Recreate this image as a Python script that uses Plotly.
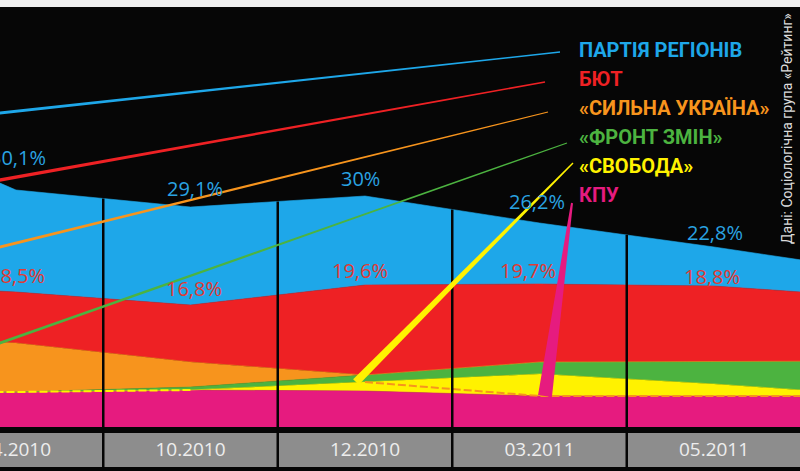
import numpy as np
import plotly.graph_objects as go

# ---------------- data (band heights as drawn, arbitrary units; index -1 and 5 lie just off-canvas) ----
x_idx = [-1, 0, 1, 2, 3, 4, 5]
tick_idx = [0, 1, 2, 3, 4]
dates = ["04.2010", "10.2010", "12.2010", "03.2011", "05.2011"]

kpu     = [8.75, 8.75, 9.25, 9.0, 7.75, 7.75, 7.75]
svoboda = [0.0, 0.0, 0.0, 2.25, 5.5, 3.0, 0.0]
front   = [0.0, 0.0, 0.75, 1.75, 3.0, 5.75, 8.75]
silna   = [14.5, 12.25, 6.25, 0.0, 0.0, 0.0, 0.0]
byut    = [12.75, 12.75, 14.25, 22.5, 19.5, 18.75, 15.75]
pr      = [42.0, 25.5, 24.5, 22.25, 15.25, 9.75, 6.25]

pr_labels = ["30,1%", "29,1%", "30%", "26,2%", "22,8%"]
byut_labels = ["18,5%", "16,8%", "19,6%", "19,7%", "18,8%"]

parties = ["ПАРТІЯ РЕГІОНІВ", "БЮТ", "«СИЛЬНА УКРАЇНА»", "«ФРОНТ ЗМІН»", "«СВОБОДА»", "КПУ"]
source = "Дані: Соціологічна група «Рейтинг»"

# ---------------- styling ----------------
C_PR, C_BYUT, C_SILNA = "#1ea7e9", "#ee2124", "#f7941d"
C_FRONT, C_SVOB, C_KPU = "#4cb340", "#fff200", "#e61b7f"
BG = "#060606"
W, H = 800, 471
PLOT_BOTTOM = 428
X0_PX, DX_PX = 16.0, 174.5
Y0_PX, PXU = 427.0, 4.0
LABEL_FONT = "Open Sans, DejaVu Sans, sans-serif"
NARROW = "Liberation Sans Narrow, Roboto, sans-serif"


def to_data(px, py):
    return (px - X0_PX) / DX_PX, (Y0_PX - py) / PXU


def ppx(px):
    return px / W


def ppy(py):
    return (PLOT_BOTTOM - py) / PLOT_BOTTOM


fig = go.Figure()

series = [("КПУ", kpu, C_KPU), ("Свобода", svoboda, C_SVOB), ("Фронт змін", front, C_FRONT),
          ("Сильна Україна", silna, C_SILNA), ("БЮТ", byut, C_BYUT), ("Партія регіонів", pr, C_PR)]
for name, vals, col in series:
    fig.add_trace(go.Scatter(x=x_idx, y=vals, name=name, stackgroup="one", mode="lines",
                             line=dict(width=0.6, color=col), fillcolor=col,
                             hoverinfo="skip", showlegend=False))

cum = np.cumsum(np.array([kpu, svoboda, front, silna, byut, pr]), axis=0)
xi = np.array(x_idx)

# zero-value parties drawn as dashed lines
fig.add_trace(go.Scatter(x=xi[:3], y=cum[0][:3], mode="lines", showlegend=False, hoverinfo="skip",
                         line=dict(color=C_SVOB, width=2, dash="8px,3px")))
oy = [cum[1][3]] + list(cum[0][4:])
fig.add_trace(go.Scatter(x=xi[3:], y=oy, mode="lines", showlegend=False, hoverinfo="skip",
                         line=dict(color=C_SILNA, width=2, dash="8px,3px")))

shapes = []
# top scan strip
shapes.append(dict(type="rect", xref="paper", yref="paper", x0=0, x1=1, y0=ppy(0), y1=ppy(7),
                   fillcolor="#f0f0f0", line=dict(width=0), layer="above"))
# grey date band (below the axis tick labels)
shapes.append(dict(type="rect", xref="paper", yref="paper", x0=0, x1=1, y0=ppy(433), y1=ppy(467),
                   fillcolor="#8d8d8d", line=dict(width=0), layer="below"))
# column separators
total = cum[-1]
for b in [0.5, 1.5, 2.5, 3.5]:
    i0 = int(np.floor(b)) + 1
    top = (total[i0] + total[i0 + 1]) / 2
    pxb = X0_PX + DX_PX * b
    top_py = Y0_PX - PXU * top
    shapes.append(dict(type="line", xref="paper", yref="paper", x0=ppx(pxb), x1=ppx(pxb),
                       y0=ppy(PLOT_BOTTOM), y1=ppy(top_py), line=dict(color="#050505", width=2.5),
                       layer="above"))
    shapes.append(dict(type="line", xref="paper", yref="paper", x0=ppx(pxb), x1=ppx(pxb),
                       y0=ppy(468), y1=ppy(PLOT_BOTTOM), line=dict(color="#050505", width=2.5),
                       layer="below"))


def wedge(a, wa, b, wb):
    ax, ay = a
    bx, by = b
    dx, dy = bx - ax, by - ay
    L = (dx * dx + dy * dy) ** 0.5
    nx, ny = -dy / L, dx / L
    pts = [(ax + nx * wa / 2, ay + ny * wa / 2), (bx + nx * wb / 2, by + ny * wb / 2),
           (bx - nx * wb / 2, by - ny * wb / 2), (ax - nx * wa / 2, ay - ny * wa / 2)]
    d = [to_data(px, py) for px, py in pts]
    return "M " + " L ".join(f"{x:.4f},{y:.4f}" for x, y in d) + " Z"


leaders = [
    (C_PR, (-20, 115.2), 3.2, (560, 52), 1.4),
    (C_BYUT, (-20, 183.6), 3.6, (545, 82), 1.4),
    (C_SILNA, (-20, 251.9), 3.0, (548, 112), 1.2),
    (C_FRONT, (-20, 350.0), 3.0, (567, 143), 1.2),
    (C_SVOB, (356, 382), 8.0, (573, 163), 1.4),
    (C_KPU, (545, 396), 14.0, (572, 203), 2.0),
]
for col, a, wa, b, wb in leaders:
    shapes.append(dict(type="path", xref="x", yref="y", path=wedge(a, wa, b, wb),
                       fillcolor=col, line=dict(width=0)))

annotations = []
leg_cols = [C_PR, C_BYUT, C_SILNA, C_FRONT, C_SVOB, C_KPU]
for k, (txt, col) in enumerate(zip(parties, leg_cols)):
    annotations.append(dict(text=f"<b>{txt}</b>", xref="paper", yref="paper", x=ppx(577),
                            y=ppy(50 + 29 * k), xanchor="left", yanchor="middle", showarrow=False,
                            font=dict(family=NARROW, size=20, color=col)))

annotations.append(dict(text=source, xref="paper", yref="paper", x=ppx(787), y=ppy(129),
                        textangle=-90, showarrow=False, xanchor="center", yanchor="middle",
                        font=dict(family=NARROW, size=14, color="#dcdcdc")))

pr_dy = [33, 19, 18, 22, 15]
pr_dx = [2, 4, -5, -3, 1]
by_dy = [17, 17, 15, 14, 10]
by_dx = [1, 3, -5, -12, -2]
for j, i in enumerate(tick_idx):
    k = x_idx.index(i)
    annotations.append(dict(text=pr_labels[j], x=i, y=total[k], xref="x", yref="y",
                            xshift=pr_dx[j], yshift=pr_dy[j], showarrow=False,
                            yanchor="middle", xanchor="center",
                            font=dict(family=LABEL_FONT, size=20, color="#2aa3e2")))
    annotations.append(dict(text=byut_labels[j], x=i, y=cum[4][k], xref="x", yref="y",
                            xshift=by_dx[j], yshift=by_dy[j], showarrow=False,
                            yanchor="middle", xanchor="center",
                            font=dict(family=LABEL_FONT, size=20, color="#e23a34")))

fig.update_layout(
    width=W, height=H,
    margin=dict(l=0, r=0, t=0, b=H - PLOT_BOTTOM, autoexpand=False),
    paper_bgcolor=BG, plot_bgcolor=BG,
    showlegend=False,
    shapes=shapes, annotations=annotations,
    xaxis=dict(range=[(0 - X0_PX) / DX_PX, (W - X0_PX) / DX_PX], tickvals=tick_idx, ticktext=dates,
               showgrid=False, zeroline=False, showline=False, ticks="",
               ticklabeloverflow="allow", automargin=False,
               tickfont=dict(family=LABEL_FONT, size=19, color="#ededed"), ticklabelstandoff=8),
    yaxis=dict(range=[(Y0_PX - PLOT_BOTTOM) / PXU, Y0_PX / PXU], visible=False,
               showgrid=False, zeroline=False, automargin=False),
)

fig.write_html("out.html")
